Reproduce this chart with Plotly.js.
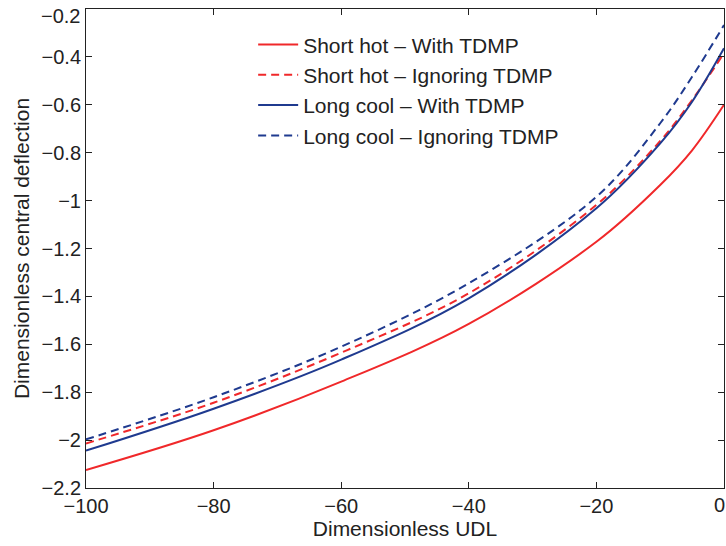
<!DOCTYPE html>
<html>
<head>
<meta charset="utf-8">
<script src="https://cdn.plot.ly/plotly-3.0.1.min.js"></script>
<style>html,body{margin:0;padding:0;background:#fff;}#chart{width:726px;height:546px;}</style>
</head>
<body>
<div id="chart"></div>
<script>
const udl = [-100, -80, -60, -40, -20, -10, -5, 0];
const shortHotWith = [-2.125, -1.959, -1.756, -1.515, -1.172, -0.935, -0.790, -0.600];
const shortHotIgnoring = [-2.014, -1.844, -1.635, -1.387, -1.018, -0.751, -0.580, -0.384];
const longCoolWith = [-2.044, -1.869, -1.664, -1.408, -1.032, -0.761, -0.587, -0.364];
const longCoolIgnoring = [-1.997, -1.821, -1.610, -1.345, -0.984, -0.677, -0.483, -0.267];
const seriesNames = ["Short hot \u2013 With TDMP", "Short hot \u2013 Ignoring TDMP", "Long cool \u2013 With TDMP", "Long cool \u2013 Ignoring TDMP"];
const xTickVals = [-100, -80, -60, -40, -20, 0];
const xTickText = ["\u2212100", "\u221280", "\u221260", "\u221240", "\u221220", "0"];
const yTickVals = [-2.2, -2, -1.8, -1.6, -1.4, -1.2, -1, -0.8, -0.6, -0.4, -0.2];
const yTickText = ["\u22122.2", "\u22122", "\u22121.8", "\u22121.6", "\u22121.4", "\u22121.2", "\u22121", "\u22120.8", "\u22120.6", "\u22120.4", "\u22120.2"];

const RED = "#f0282a", BLUE = "#1f3a8f";
const mk = (y, name, color, dash) => ({
  x: udl, y: y, name: name, type: "scatter", mode: "lines",
  line: {color: color, width: 2, dash: dash, shape: "spline", smoothing: 1}
});
const data = [
  mk(shortHotWith, seriesNames[0], RED, "solid"),
  mk(shortHotIgnoring, seriesNames[1], RED, "8px,5px"),
  mk(longCoolWith, seriesNames[2], BLUE, "solid"),
  mk(longCoolIgnoring, seriesNames[3], BLUE, "8px,5px")
];
const FAM = "Liberation Sans, Arial, sans-serif";
const TICKFONT = {family: FAM, size: 20, color: "#222"};
// edge tick labels that Plotly drops at the very ends of the axes
const lastX = xTickVals.length - 1, lastY = yTickVals.length - 1;
const xTickShown = xTickText.map((t, i) => i === lastX ? "" : t);
const yTickShown = yTickText.map((t, i) => i === lastY ? "" : t);
const axisCommon = {
  showgrid: false, zeroline: false, showline: true, linecolor: "#222", linewidth: 1,
  mirror: "ticks", ticks: "inside", ticklen: 6, tickcolor: "#222", tickwidth: 1,
  tickfont: TICKFONT
};
const layout = {
  width: 726, height: 546,
  margin: {l: 86, r: 2, t: 9, b: 58},
  paper_bgcolor: "#fff", plot_bgcolor: "#fff",
  font: {family: FAM, size: 20, color: "#222"},
  showlegend: true,
  legend: {x: 0.262, y: 0.968, xanchor: "left", yanchor: "top", bgcolor: "rgba(255,255,255,0)",
           font: {family: FAM, size: 21, color: "#222"}, tracegroupgap: 0, itemwidth: 40},
  xaxis: Object.assign({}, axisCommon, {
    range: [-100, 0], tickvals: xTickVals, ticktext: xTickShown,
    title: {text: "Dimensionless UDL", font: {family: FAM, size: 21, color: "#222"}, standoff: 4}
  }),
  yaxis: Object.assign({}, axisCommon, {
    range: [-2.2, -0.2], tickvals: yTickVals, ticktext: yTickShown,
    title: {text: "Dimensionless central deflection", font: {family: FAM, size: 21, color: "#222"}, standoff: 6}
  }),
  annotations: [
    {xref: "x", yref: "paper", x: xTickVals[lastX], y: 0, text: xTickText[lastX], showarrow: false,
     xanchor: "right", yanchor: "top", xshift: 3, yshift: -4, font: TICKFONT},
    {xref: "paper", yref: "y", x: 0, y: yTickVals[lastY], text: yTickText[lastY], showarrow: false,
     xanchor: "right", yanchor: "top", xshift: -4, yshift: 6, font: TICKFONT}
  ]
};
Plotly.newPlot("chart", data, layout, {staticPlot: true, displayModeBar: false});
</script>
</body>
</html>
